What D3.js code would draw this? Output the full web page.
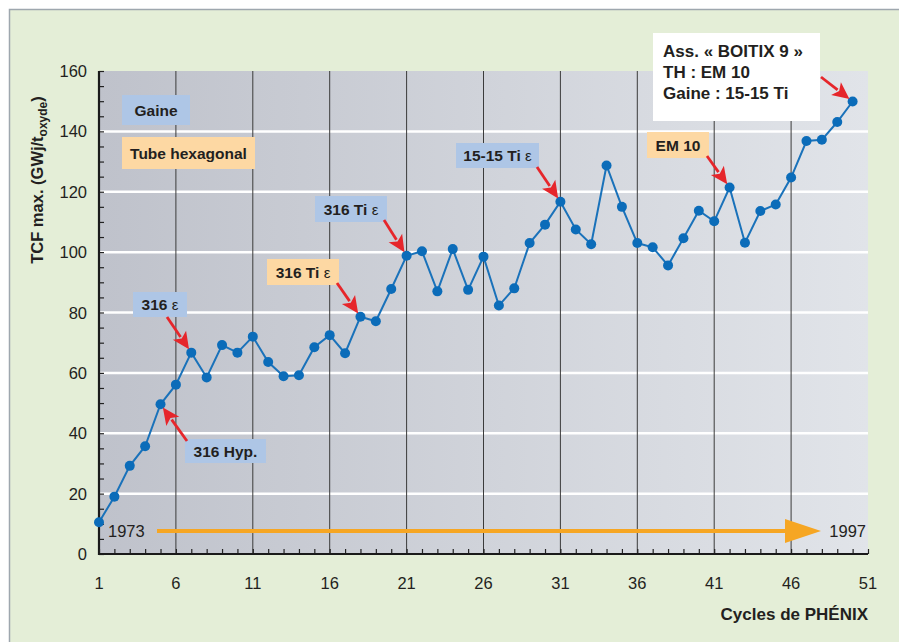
<!DOCTYPE html>
<html>
<head>
<meta charset="utf-8">
<script src="https://cdn.jsdelivr.net/npm/d3@7"></script>
<style>
  html, body { margin: 0; padding: 0; background: #ffffff; }
  svg { display: block; font-family: "Liberation Sans", Arial, sans-serif; }
</style>
</head>
<body>
<svg id="chart" width="899" height="642"></svg>
<script>
// Cycles of the PHÉNIX reactor and the maximum burn-up reached (GWj/t oxyde)
const cycles = d3.range(1, 51);
const tcfMax = [
  10.5, 19, 29.2, 35.7, 49.6, 56.1, 66.7, 58.5, 69.2, 66.7,
  72, 63.6, 58.9, 59.2, 68.5, 72.5, 66.5, 78.6, 77.1, 87.8,
  98.8, 100.3, 87, 101, 87.5, 98.5, 82.3, 88, 103, 109.1,
  116.7, 107.5, 102.6, 128.7, 115, 103, 101.6, 95.6, 104.6, 113.7,
  110.2, 121.4, 103.1, 113.6, 115.8, 124.7, 136.8, 137.2, 143.1, 149.9
];
const xTicks = [1, 6, 11, 16, 21, 26, 31, 36, 41, 46, 51];
const yTicks = [0, 20, 40, 60, 80, 100, 120, 140, 160];
const yearStart = "1973";
const yearEnd = "1997";

// Legend entries and the annotations pointing at particular cycles
const legendLabels = ["Gaine", "Tube hexagonal"];
const legendKinds = ["gaine", "tube"];
const noteLabels = ["316 ε", "316 Hyp.", "316 Ti ε", "316 Ti ε", "15-15 Ti ε", "EM 10"];
const noteKinds = ["gaine", "gaine", "tube", "gaine", "gaine", "tube"];
const noteCycles = [7, 5, 18, 21, 31, 42];
const finalNoteLines = ["Ass. « BOITIX 9 »", "TH : EM 10", "Gaine : 15-15 Ti"];
const finalNoteCycle = 50;

const kindFill = { gaine: "#aec6e6", tube: "#fdd8a3" };

const svg = d3.select("#chart");

// page frame
svg.append("rect").attr("x", 9.5).attr("y", 9.5).attr("width", 899).attr("height", 642)
  .attr("fill", "#e4eed7").attr("stroke", "#9ea7ae").attr("stroke-width", 1.5);

const x = d3.scaleLinear().domain([1, 51]).range([99, 868]);
const y = d3.scaleLinear().domain([0, 160]).range([554, 71]);

// plot background gradient
const defs = svg.append("defs");
const grad = defs.append("linearGradient").attr("id", "plotBg")
  .attr("x1", "0%").attr("x2", "100%").attr("y1", "0%").attr("y2", "0%");
grad.append("stop").attr("offset", "0%").attr("stop-color", "#bfc2cb");
grad.append("stop").attr("offset", "100%").attr("stop-color", "#e1e4e9");

svg.append("rect")
  .attr("x", x(1)).attr("y", y(160))
  .attr("width", x(51) - x(1)).attr("height", y(0) - y(160))
  .attr("fill", "url(#plotBg)");

// horizontal white grid
svg.append("g").selectAll("line")
  .data(yTicks.filter(d => d > 0 && d < 160))
  .join("line")
  .attr("x1", x(1)).attr("x2", x(51))
  .attr("y1", d => y(d)).attr("y2", d => y(d))
  .attr("stroke", "#ffffff").attr("stroke-width", 2.5);

// vertical dark grid
svg.append("g").selectAll("line")
  .data(xTicks.filter(d => d > 1 && d < 51))
  .join("line")
  .attr("x1", d => x(d)).attr("x2", d => x(d))
  .attr("y1", y(160)).attr("y2", y(0))
  .attr("stroke", "#3b3b3b").attr("stroke-width", 1);

// y axis: minor ticks every 5, labels every 20
const yAxis = svg.append("g").attr("transform", `translate(${x(1)},0)`)
  .call(d3.axisRight(y).tickValues(d3.range(0, 161, 5)).tickSize(5).tickFormat(""));
yAxis.select(".domain").remove();
yAxis.selectAll(".tick line").attr("stroke", "#222").attr("stroke-width", 1.2);
svg.append("line").attr("x1", x(1)).attr("x2", x(1)).attr("y1", y(160)).attr("y2", y(0) + 1)
  .attr("stroke", "#1a1a1a").attr("stroke-width", 2.2);
svg.append("g").selectAll("text").data(yTicks).join("text")
  .attr("x", 87).attr("y", d => y(d) + 6)
  .attr("text-anchor", "end").attr("font-size", 16.5).attr("fill", "#231f20")
  .text(d => d);

// x axis: minor ticks every cycle
const xAxis = svg.append("g").attr("transform", `translate(0,${y(0)})`)
  .call(d3.axisTop(x).tickValues(d3.range(1, 52)).tickSize(5).tickFormat(""));
xAxis.select(".domain").remove();
xAxis.selectAll(".tick line").attr("stroke", "#222").attr("stroke-width", 1.2);
svg.append("line").attr("x1", x(1) - 1).attr("x2", x(51)).attr("y1", y(0)).attr("y2", y(0))
  .attr("stroke", "#1a1a1a").attr("stroke-width", 2.2);
svg.append("g").selectAll("text").data(xTicks).join("text")
  .attr("x", d => x(d)).attr("y", 589)
  .attr("text-anchor", "middle").attr("font-size", 16.5).attr("fill", "#231f20")
  .attr("font-family", "'Liberation Sans Narrow', 'Liberation Sans', Arial, sans-serif")
  .text(d => d);

// axis titles
const yTitle = svg.append("text")
  .attr("transform", "translate(43,180) rotate(-90)")
  .attr("text-anchor", "middle").attr("font-size", 16.5).attr("font-weight", "bold")
  .attr("fill", "#231f20");
yTitle.append("tspan").text("TCF max. (GWj/t");
yTitle.append("tspan").attr("font-size", 12).attr("dy", 4).text("oxyde");
yTitle.append("tspan").attr("dy", -4).text(")");

svg.append("text").attr("x", 868).attr("y", 620)
  .attr("text-anchor", "end").attr("font-size", 17).attr("font-weight", "bold")
  .attr("fill", "#231f20").text("Cycles de PHÉNIX");

// time arrow 1973 -> 1997
const arrowY = 531;
svg.append("line").attr("x1", 157).attr("x2", 790).attr("y1", arrowY).attr("y2", arrowY)
  .attr("stroke", "#f6a623").attr("stroke-width", 4);
svg.append("path")
  .attr("d", `M785,${arrowY - 12}L821,${arrowY}L785,${arrowY + 12}Z`)
  .attr("fill", "#f6a623");
svg.append("text").attr("x", 108).attr("y", arrowY + 6).attr("font-size", 16.5)
  .attr("fill", "#231f20").text(yearStart);
svg.append("text").attr("x", 866).attr("y", arrowY + 6).attr("font-size", 16.5)
  .attr("text-anchor", "end").attr("fill", "#231f20").text(yearEnd);

// data line and points
const line = d3.line().x((d, i) => x(cycles[i])).y(d => y(d));
svg.append("path").datum(tcfMax).attr("d", line)
  .attr("fill", "none").attr("stroke", "#1a72ba").attr("stroke-width", 2);
svg.append("g").selectAll("circle").data(tcfMax).join("circle")
  .attr("cx", (d, i) => x(cycles[i])).attr("cy", d => y(d)).attr("r", 5)
  .attr("fill", "#0b6cb9");

// labelled boxes
function labelBox(text, kind, bx, by, bw, bh) {
  svg.append("rect").attr("x", bx).attr("y", by).attr("width", bw).attr("height", bh)
    .attr("fill", kindFill[kind]);
  const t = svg.append("text").attr("x", bx + bw / 2).attr("y", by + bh / 2 + 5.5)
    .attr("text-anchor", "middle").attr("font-size", 15.5).attr("font-weight", "bold")
    .attr("fill", "#231f20");
  const parts = text.split("ε");
  t.append("tspan").text(parts[0]);
  if (parts.length > 1) {
    t.append("tspan").attr("font-weight", "normal").attr("font-size", 15).text("ε");
  }
}

// red arrow from a tail point to a plotted cycle value
function redArrow(tx, ty, cycle) {
  const px = x(cycle), py = y(tcfMax[cycle - 1]);
  const dx = px - tx, dy = py - ty, len = Math.hypot(dx, dy);
  const ux = dx / len, uy = dy / len;
  const hx = px - ux * 4, hy = py - uy * 4;
  const headLen = 17, headW = 8;
  const bx = hx - ux * headLen, by = hy - uy * headLen;
  svg.append("line").attr("x1", tx).attr("y1", ty).attr("x2", bx + ux * 2).attr("y2", by + uy * 2)
    .attr("stroke", "#e6262b").attr("stroke-width", 2.8);
  svg.append("path")
    .attr("d", `M${hx},${hy}L${bx - uy * headW},${by + ux * headW}L${bx + ux * 4},${by + uy * 4}L${bx + uy * headW},${by - ux * headW}Z`)
    .attr("fill", "#e6262b");
}

// legend
const legendBoxes = [[122, 95, 68, 30], [122, 137, 133, 32]];
legendLabels.forEach((t, i) => labelBox(t, legendKinds[i], ...legendBoxes[i]));

// annotation boxes and the arrow tail positions
const noteBoxes = [
  [133, 292, 54, 25], [185, 439, 81, 24], [267, 259, 72, 26],
  [315, 196, 72, 26], [456, 143, 83, 25], [647, 132, 62, 26]
];
const noteTails = [[167, 317], [187, 441], [337, 283], [384, 220], [537, 167], [707, 156]];
noteLabels.forEach((t, i) => {
  labelBox(t, noteKinds[i], ...noteBoxes[i]);
  redArrow(noteTails[i][0], noteTails[i][1], noteCycles[i]);
});

// final assembly note
svg.append("rect").attr("x", 653).attr("y", 33).attr("width", 167).attr("height", 88)
  .attr("fill", "#ffffff");
svg.append("g").selectAll("text").data(finalNoteLines).join("text")
  .attr("x", 663).attr("y", (d, i) => 57 + i * 21)
  .attr("font-size", 17).attr("font-weight", "bold").attr("fill", "#231f20")
  .text(d => d);
redArrow(821, 77, finalNoteCycle);
</script>
</body>
</html>
